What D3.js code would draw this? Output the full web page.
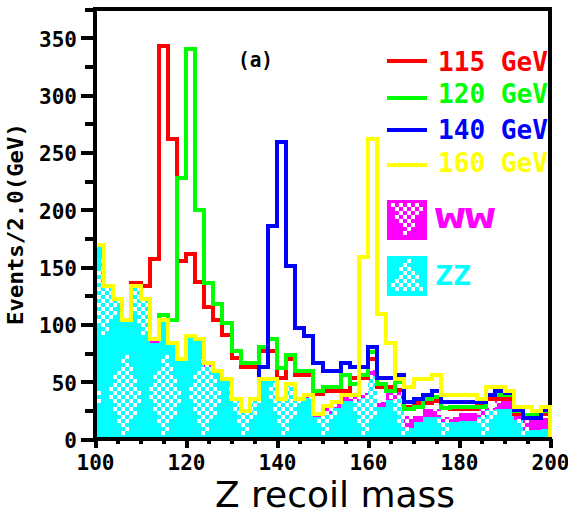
<!DOCTYPE html>
<html>
<head>
<meta charset="utf-8">
<script src="https://cdn.jsdelivr.net/npm/d3@7"></script>
<style>
  html, body { margin: 0; padding: 0; background: #ffffff; }
  svg { display: block; }
</style>
</head>
<body>
<svg id="chart" width="568" height="517"></svg>
<script>
// Lower edge of each 2 GeV bin of the recoil-mass histogram (GeV)
const massBins = [100,102,104,106,108,110,112,114,116,118,
                  120,122,124,126,128,130,132,134,136,138,
                  140,142,144,146,148,150,152,154,156,158,
                  160,162,164,166,168,170,172,174,176,178,
                  180,182,184,186,188,190,192,194,196,198];

// Backgrounds (stacked: ZZ at the bottom, WW on top), events / 2 GeV
const zzEvents = [168,132,121,103,132,121,84,103,83,69,
                  89,86,63,58,51,34,23,34,51,51,
                  34,47,34,36,19,22,27,33,33,36,
                  55,28,34,35,10,15,19,19,15,15,
                  16,16,19,25,26,26,17,8,8,9];
const wwEvents = [1,1,1,1,1,1,3,1,1,1,
                  1,1,3,1,1,1,1,1,1,1,
                  1,1,1,2,2.5,6.5,5,5,5,4,
                  5,4,6,6,10,5,7,7,4,4,
                  7,7,7,2,7,7,4,9,9,9];

// Signal + background totals for each Higgs mass hypothesis
const total115 = [169,133,122,104,136,133,157,343,262,155,
                  161,137,115,104,91,71,63,63,77,77,
                  53,70,56,56,39,42,42,42,53,53,
                  70,45,45,43,28,31,31,33,27,26,
                  26,26,31,35,35,35,22,20,20,22];
const total120 = [169,133,122,104,133,122,87,108,104,228,
                  340,200,136,118,101,77,66,66,80,87,
                  62,73,59,59,42,45,45,56,48,56,
                  76,48,42,50,26,28,35,37,27,28,
                  28,28,28,38,38,38,24,21,21,24];
const total140 = [169,133,122,104,133,122,87,104,84,70,
                  90,87,66,59,52,35,24,35,63,186,
                  259,151,97,90,66,59,59,66,63,63,
                  80,53,53,56,32,35,38,42,32,32,
                  32,32,32,38,42,40,25,18,18,25];
const total160 = [169,133,122,104,133,122,87,104,84,70,
                  90,87,66,59,52,35,24,35,52,52,
                  35,48,35,38,21.5,28.5,32,38,38,159,
                  262,109,84,52,45,52,52,56,38,38,
                  38,38,35,45,45,42,28,28,24,28];

const seriesLabels = ["115 GeV", "120 GeV", "140 GeV", "160 GeV"];
const seriesColors = ["#ff0000", "#00ff00", "#0000ff", "#ffff00"];
const seriesValues = [total115, total120, total140, total160];
const bgLabels = ["WW", "ZZ"];
const bgColors = ["#ff00ff", "#00ffff"];

const yMajorTicks = [0,50,100,150,200,250,300,350];
const yMinorTicks = [25,75,125,175,225,275,325,375];
const xMajorTicks = [100,120,140,160,180,200];
const xMinorTicks = [105,110,115,125,130,135,145,150,155,165,170,175,185,190,195];

const monoFont = "'DejaVu Sans Mono', 'Liberation Mono', monospace";

const svg = d3.select("#chart");
const x = d3.scaleLinear().domain([100, 200]).range([95, 550]);
const y = d3.scaleLinear().domain([0, 375]).range([439, 9]);

const defs = svg.append("defs");

// Checkered diamond texture used inside the background fills
function makeChecker(id, base) {
  const p = defs.append("pattern").attr("id", id)
    .attr("patternUnits", "userSpaceOnUse")
    .attr("x", 25).attr("y", 95).attr("width", 40).attr("height", 200);
  p.append("rect").attr("width", 40).attr("height", 200).attr("fill", base);
  const centres = [[20, 100], [0, 0], [40, 0], [0, 200], [40, 200]];
  for (let i = 0; i < 10; i++) {
    for (let j = 0; j < 50; j++) {
      if ((i + j) % 2) continue;
      const cx = 4 * i + 2, cy = 4 * j + 2;
      if (centres.some(([dx, dy]) => Math.abs(cx - dx) / 17 + Math.abs(cy - dy) / 44 <= 1)) {
        p.append("rect").attr("x", 4 * i).attr("y", 4 * j)
          .attr("width", 4).attr("height", 4).attr("fill", "#ffffff");
      }
    }
  }
}
makeChecker("chkZZ", "#00ffff");
makeChecker("chkWW", "#ff00ff");

defs.append("clipPath").attr("id", "plotClip")
  .append("rect").attr("x", 97).attr("y", 0).attr("width", 455).attr("height", 437);

// Stacked background fills
const stackRows = massBins.map((m, i) => [m, zzEvents[i], zzEvents[i] + wwEvents[i]]);
stackRows.push([200, zzEvents[49], zzEvents[49] + wwEvents[49]]);

svg.append("path").datum(stackRows)
  .attr("d", d3.area().curve(d3.curveStepAfter).x(d => x(d[0])).y0(y(0)).y1(d => y(d[1])))
  .attr("fill", "url(#chkZZ)").attr("shape-rendering", "crispEdges");
svg.append("path").datum(stackRows)
  .attr("d", d3.area().curve(d3.curveStepAfter).x(d => x(d[0])).y0(d => y(d[1])).y1(d => y(d[2])))
  .attr("fill", "url(#chkWW)").attr("shape-rendering", "crispEdges");

// Axes
function styleAxis(g) {
  g.select(".domain").remove();
  g.selectAll(".tick line").attr("stroke", "#000").attr("stroke-width", 4)
    .attr("shape-rendering", "crispEdges");
  g.selectAll(".tick text").attr("fill", "#000")
    .style("font-family", monoFont).style("font-weight", "bold").style("font-size", "21px");
}

const yAxisMinor = svg.append("g").attr("transform", "translate(95,0)")
  .call(d3.axisLeft(y).tickValues(yMinorTicks).tickSize(10).tickFormat(""));
styleAxis(yAxisMinor);
const yAxis = svg.append("g").attr("transform", "translate(95,0)")
  .call(d3.axisLeft(y).tickValues(yMajorTicks).tickSize(14).tickPadding(4).tickFormat(d3.format("d")));
styleAxis(yAxis);
yAxis.selectAll(".tick text").attr("dy", "0.4em");

const xAxisMinor = svg.append("g").attr("transform", "translate(0,439)")
  .call(d3.axisBottom(x).tickValues(xMinorTicks).tickSize(5).tickFormat(""));
styleAxis(xAxisMinor);
const xAxis = svg.append("g").attr("transform", "translate(0,439)")
  .call(d3.axisBottom(x).tickValues(xMajorTicks).tickSize(9).tickPadding(7).tickFormat(d3.format("d")));
styleAxis(xAxis);

// Frame
svg.append("rect").attr("x", 95).attr("y", 9).attr("width", 455).attr("height", 430)
  .attr("fill", "none").attr("stroke", "#000").attr("stroke-width", 4)
  .attr("shape-rendering", "crispEdges");

// Signal + background histograms
const stepLine = d3.line().curve(d3.curveStepAfter).x(d => x(d[0])).y(d => y(d[1]));
const lineLayer = svg.append("g").attr("clip-path", "url(#plotClip)");
seriesValues.forEach((vals, k) => {
  const pts = massBins.map((m, i) => [m, vals[i]]);
  pts.push([200, vals[vals.length - 1]]);
  pts.push([200, 0]);
  lineLayer.append("path").datum(pts)
    .attr("d", stepLine)
    .attr("fill", "none")
    .attr("stroke", seriesColors[k])
    .attr("stroke-width", 4)
    .attr("stroke-linejoin", "miter")
    .attr("shape-rendering", "crispEdges");
});

// Legend: histogram lines
const legendLineY = [60.7, 98, 130, 165.3];
const legendTextY = [70.7, 103.3, 139.3, 171.7];
seriesLabels.forEach((lab, k) => {
  svg.append("line").attr("x1", 387).attr("x2", 427)
    .attr("y1", legendLineY[k]).attr("y2", legendLineY[k])
    .attr("stroke", seriesColors[k]).attr("stroke-width", 4)
    .attr("shape-rendering", "crispEdges");
  svg.append("text").attr("x", 438).attr("y", legendTextY[k])
    .attr("textLength", 110).attr("lengthAdjust", "spacingAndGlyphs")
    .attr("fill", seriesColors[k])
    .style("font-family", monoFont).style("font-weight", "bold").style("font-size", "27px")
    .text(lab);
});

// Legend: background boxes with checkered triangles
function legendBox(x0, y0, base, pointDown) {
  svg.append("rect").attr("x", x0).attr("y", y0).attr("width", 40).attr("height", 40)
    .attr("fill", base).attr("shape-rendering", "crispEdges");
  for (let i = 0; i < 8; i++) {
    for (let j = 0; j < 8; j++) {
      if ((i + j) % 2) continue;
      const cx = 4 * i + 2, cy = 4 * j + 2;
      const depth = pointDown ? (32 - cy) : cy;
      if (Math.abs(cx - 16) <= depth / 2 + 1) {
        svg.append("rect").attr("x", x0 + 4 + 4 * i).attr("y", y0 + 3 + 4 * j)
          .attr("width", 4).attr("height", 4).attr("fill", "#ffffff")
          .attr("shape-rendering", "crispEdges");
      }
    }
  }
}
legendBox(387, 200, bgColors[0], true);
legendBox(387, 256, bgColors[1], false);
svg.append("text").attr("x", 435).attr("y", 228)
  .attr("textLength", 60).attr("lengthAdjust", "spacingAndGlyphs")
  .attr("fill", bgColors[0])
  .style("font-family", monoFont).style("font-weight", "bold").style("font-size", "27px")
  .text(bgLabels[0]);
svg.append("text").attr("x", 435).attr("y", 285)
  .attr("textLength", 36).attr("lengthAdjust", "spacingAndGlyphs")
  .attr("fill", bgColors[1])
  .style("font-family", monoFont).style("font-weight", "bold").style("font-size", "27px")
  .text(bgLabels[1]);

// Panel tag
svg.append("text").attr("x", 255.5).attr("y", 67).attr("text-anchor", "middle")
  .attr("textLength", 35).attr("lengthAdjust", "spacingAndGlyphs")
  .style("font-family", monoFont).style("font-weight", "bold").style("font-size", "22px")
  .text("(a)");

// Axis titles
svg.append("text").attr("transform", "translate(23,224) rotate(-90)")
  .attr("text-anchor", "middle")
  .attr("textLength", 202).attr("lengthAdjust", "spacingAndGlyphs")
  .style("font-family", monoFont).style("font-weight", "bold").style("font-size", "22px")
  .text("Events/2.0(GeV)");
svg.append("text").attr("x", 335).attr("y", 507).attr("text-anchor", "middle")
  .attr("textLength", 240).attr("lengthAdjust", "spacingAndGlyphs")
  .style("font-family", "'DejaVu Sans', sans-serif").style("font-size", "36px")
  .text("Z recoil mass");
</script>
</body>
</html>
